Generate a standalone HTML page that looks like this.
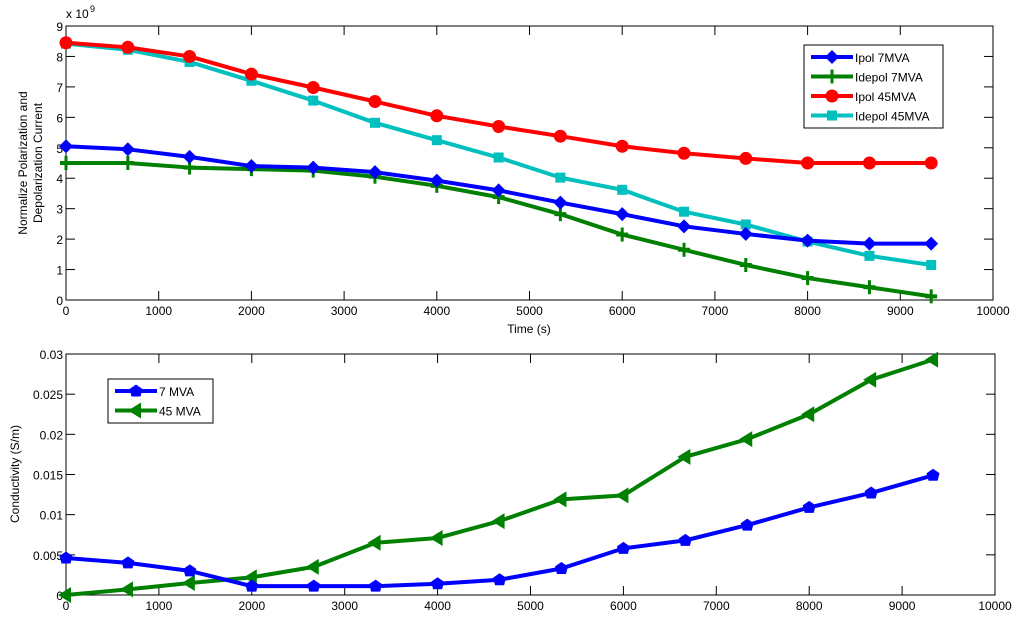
<!DOCTYPE html>
<html><head><meta charset="utf-8"><style>
body{margin:0;background:#fff;}
svg{display:block;font-family:"Liberation Sans",Arial,sans-serif;}
</style></head><body>
<svg id="c" width="1028" height="619" xmlns="http://www.w3.org/2000/svg">
<rect width="1028" height="619" fill="#fff"/>
</svg>
<script>
const times=[0,667,1333,2000,2667,3333,4000,4667,5333,6000,6667,7333,8000,8667,9333];
const ipol7=[5.05,4.95,4.7,4.4,4.35,4.2,3.92,3.6,3.2,2.82,2.42,2.17,1.95,1.85,1.85];
const idepol7=[4.5,4.5,4.35,4.3,4.25,4.05,3.75,3.38,2.82,2.15,1.65,1.15,0.72,0.42,0.12];
const ipol45=[8.45,8.3,8.0,7.42,6.98,6.52,6.05,5.7,5.38,5.05,4.82,4.65,4.5,4.5,4.5];
const idepol45=[8.42,8.22,7.82,7.2,6.55,5.82,5.25,4.68,4.02,3.62,2.9,2.48,1.92,1.45,1.15];
const cond7=[0.0046,0.004,0.003,0.0011,0.0011,0.0011,0.0014,0.0019,0.0033,0.0058,0.0068,0.0087,0.0109,0.0127,0.0149];
const cond45=[0,0.0007,0.0015,0.0022,0.0035,0.0065,0.0071,0.0092,0.0119,0.0124,0.0172,0.0194,0.0225,0.0268,0.0293];
const xTicks=[0,1000,2000,3000,4000,5000,6000,7000,8000,9000,10000];
const yTicksTop=[0,1,2,3,4,5,6,7,8,9];
const yTicksBot=[0,0.005,0.01,0.015,0.02,0.025,0.03];
const yLabelsBot=['0','0.005','0.01','0.015','0.02','0.025','0.03'];

const svg=document.getElementById('c');
const NS='http://www.w3.org/2000/svg';
function el(tag,attrs,parent){const e=document.createElementNS(NS,tag);for(const k in attrs)e.setAttribute(k,attrs[k]);(parent||svg).appendChild(e);return e;}
function txt(x,y,s,anchor,size,parent){const t=el('text',{x:x,y:y,'text-anchor':anchor,'font-size':size||12,fill:'#000'},parent);t.textContent=s;return t;}

function marker(g,type,x,y,col){
  if(type==='diamond')return el('polygon',{points:`${x},${y-7} ${x+7},${y} ${x},${y+7} ${x-7},${y}`,fill:col},g);
  if(type==='plus'){el('rect',{x:x-1.5,y:y-7,width:3,height:14,fill:col},g);el('rect',{x:x-6,y:y-2,width:12,height:4,fill:col},g);return;}
  if(type==='circle')return el('circle',{cx:x,cy:y,r:6.5,fill:col},g);
  if(type==='square')return el('rect',{x:x-5,y:y-5,width:10,height:10,fill:col},g);
  if(type==='pent')return el('polygon',{points:`${x},${y-6.5} ${x+6.5},${y-2} ${x+4.5},${y+5.5} ${x-4.5},${y+5.5} ${x-6.5},${y-2}`,fill:col},g);
  if(type==='tri')return el('polygon',{points:`${x-8},${y} ${x+5},${y-8} ${x+5},${y+8}`,fill:col},g);
}

function axes(name,L,T,R,B,xmax,ymax,yt,ylabels){
  const sx=v=>L+(R-L)*v/xmax, sy=v=>B-(B-T)*v/ymax;
  const g=el('g',{});
  
  
  el('rect',{x:L,y:T,width:R-L,height:B-T,fill:'#fff',stroke:'#000','stroke-width':1},g);
  const xg=el('g',{},g);
  
  
  xTicks.forEach(v=>{const x=sx(v);
    el('line',{x1:x,y1:B,x2:x,y2:B-9,stroke:'#000'},xg);
    el('line',{x1:x,y1:T,x2:x,y2:T+9,stroke:'#000'},xg);
    txt(x,B+15,String(v),'middle',12,xg);});
  const yg=el('g',{},g);
  
  
  yt.forEach((v,i)=>{const y=sy(v);
    el('line',{x1:L,y1:y,x2:L+9,y2:y,stroke:'#000'},yg);
    el('line',{x1:R,y1:y,x2:R-9,y2:y,stroke:'#000'},yg);
    txt(L-3,y+5,ylabels[i],'end',12,yg);});
  return {sx,sy,g};
}

function series(ax,name,vals,col,mk){
  const g=el('g',{},ax.g);
  
  
  const pts=times.map((t,i)=>ax.sx(t)+','+ax.sy(vals[i])).join(' ');
  el('polyline',{points:pts,fill:'none',stroke:col,'stroke-width':4,'stroke-linejoin':'round'},g);
  times.forEach((t,i)=>marker(g,mk,ax.sx(t),ax.sy(vals[i]),col));
}

const topAx=axes('top-plot',66,26,993,300,10000,9,yTicksTop,yTicksTop.map(String));
series(topAx,'series-idepol-45mva',idepol45,'#00bfbf','square');
series(topAx,'series-ipol-45mva',ipol45,'#ff0000','circle');
series(topAx,'series-idepol-7mva',idepol7,'#008000','plus');
series(topAx,'series-ipol-7mva',ipol7,'#0000ff','diamond');
const ex=txt(66,18,'x 10','start',12);


txt(90,12,'9','start',9);
const xt=txt(529,333,'Time (s)','middle',12);


const yt1=el('text',{transform:'translate(27,163) rotate(-90)','text-anchor':'middle','font-size':12});


yt1.textContent='Normalize Polarization and';
const yt2=el('text',{transform:'translate(42,163) rotate(-90)','text-anchor':'middle','font-size':12});
yt2.textContent='Depolarization Current';

const botAx=axes('bottom-plot',66,354,995,595,10000,0.03,yTicksBot,yLabelsBot);
series(botAx,'series-cond-45mva',cond45,'#008000','tri');
series(botAx,'series-cond-7mva',cond7,'#0000ff','pent');
const yt3=el('text',{transform:'translate(19,474) rotate(-90)','text-anchor':'middle','font-size':12});


yt3.textContent='Conductivity (S/m)';

function legend(name,x,y,w,h,items){
  const g=el('g',{});
  
  
  el('rect',{x:x,y:y,width:w,height:h,fill:'#fff',stroke:'#000'},g);
  items.forEach((it,i)=>{const cy=y+12+i*19.5;
    const e=el('g',{},g);
    
    
    el('line',{x1:x+7,y1:cy,x2:x+49,y2:cy,stroke:it[1],'stroke-width':4},e);
    marker(e,it[2],x+28,cy,it[1]);
    txt(x+51,cy+5,it[0],'start',12,e);});
}
legend('legend-top',804,45,139,83,[['Ipol 7MVA','#0000ff','diamond'],['Idepol 7MVA','#008000','plus'],['Ipol 45MVA','#ff0000','circle'],['Idepol 45MVA','#00bfbf','square']]);
legend('legend-bottom',108,379,105,44,[['7 MVA','#0000ff','pent'],['45 MVA','#008000','tri']]);
</script>
</body></html>
